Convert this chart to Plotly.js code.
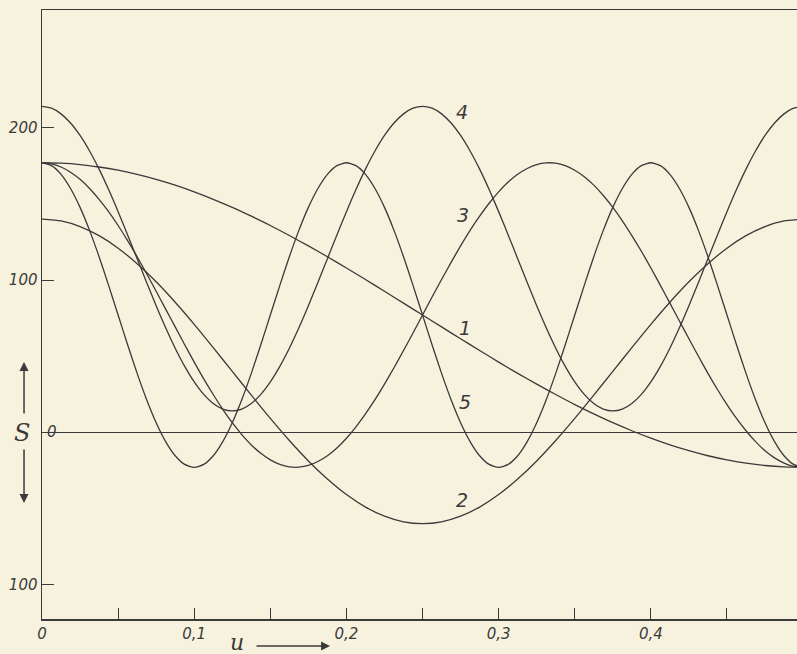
<!DOCTYPE html>
<html>
<head>
<meta charset="utf-8">
<script src="https://cdn.plot.ly/plotly-3.0.1.min.js"></script>
<style>html,body{margin:0;padding:0;background:#f7f2de;}</style>
</head>
<body>
<div id="chart" style="width:797px;height:654px;"></div>
<script>
// u values (abscissa): coarse grid for the slow curves, fine grid for the fast ones
const u = [0,0.0125,0.025,0.0375,0.05,0.0625,0.075,0.0875,0.1,0.1125,0.125,0.1375,0.15,0.1625,0.175,0.1875,0.2,0.2125,0.225,0.2375,0.25,0.2625,0.275,0.2875,0.3,0.3125,0.325,0.3375,0.35,0.3625,0.375,0.3875,0.4,0.4125,0.425,0.4375,0.45,0.4625,0.475,0.4875,0.5];
const uFine = [0,0.00625,0.0125,0.01875,0.025,0.03125,0.0375,0.04375,0.05,0.05625,0.0625,0.06875,0.075,0.08125,0.0875,0.09375,0.1,0.10625,0.1125,0.11875,0.125,0.13125,0.1375,0.14375,0.15,0.15625,0.1625,0.16875,0.175,0.18125,0.1875,0.19375,0.2,0.20625,0.2125,0.21875,0.225,0.23125,0.2375,0.24375,0.25,0.25625,0.2625,0.26875,0.275,0.28125,0.2875,0.29375,0.3,0.30625,0.3125,0.31875,0.325,0.33125,0.3375,0.34375,0.35,0.35625,0.3625,0.36875,0.375,0.38125,0.3875,0.39375,0.4,0.40625,0.4125,0.41875,0.425,0.43125,0.4375,0.44375,0.45,0.45625,0.4625,0.46875,0.475,0.48125,0.4875,0.49375,0.5];

// S values for each curve
const curve1 = [177,176.7,175.8,174.2,172.1,169.4,166.1,162.3,157.9,153.0,147.7,141.9,135.8,129.2,122.4,115.3,107.9,100.3,92.6,84.8,77,69.2,61.4,53.7,46.1,38.7,31.6,24.8,18.2,12.1,6.3,1.0,-3.9,-8.3,-12.1,-15.4,-18.1,-20.2,-21.8,-22.7,-23];
const curve2 = [140,138.8,135.1,129.1,120.9,110.7,98.8,85.4,70.9,55.6,40,24.4,9.1,-5.4,-18.8,-30.7,-40.9,-49.1,-55.1,-58.8,-60,-58.8,-55.1,-49.1,-40.9,-30.7,-18.8,-5.4,9.1,24.4,40,55.6,70.9,85.4,98.8,110.7,120.9,129.1,135.1,138.8,140];
const curve3 = [177,176.3,174.2,170.8,166.1,160.1,153.0,144.9,135.8,125.9,115.3,104.1,92.6,80.9,69.2,57.5,46.1,35.1,24.8,15.1,6.3,-1.5,-8.3,-13.8,-18.1,-21.1,-22.7,-22.9,-21.8,-19.2,-15.4,-10.3,-3.9,3.6,12.1,21.4,31.6,42.4,53.7,65.2,77,88.8,100.3,111.6,122.4,132.6,141.9,150.4,157.9,164.3,169.4,173.2,175.8,176.9,176.7,175.1,172.1,167.8,162.3,155.5,147.7,138.9,129.2,118.9,107.9,96.5,84.8,73.1,61.4,49.9,38.7,28.1,18.2,9.1,1.0,-6.1,-12.1,-16.8,-20.2,-22.3,-23];
const curve4 = [214,212.8,209.1,203.1,194.9,184.7,172.8,159.4,144.9,129.6,114,98.4,83.1,68.6,55.2,43.3,33.1,24.9,18.9,15.2,14,15.2,18.9,24.9,33.1,43.3,55.2,68.6,83.1,98.4,114,129.6,144.9,159.4,172.8,184.7,194.9,203.1,209.1,212.8,214,212.8,209.1,203.1,194.9,184.7,172.8,159.4,144.9,129.6,114,98.4,83.1,68.6,55.2,43.3,33.1,24.9,18.9,15.2,14,15.2,18.9,24.9,33.1,43.3,55.2,68.6,83.1,98.4,114,129.6,144.9,159.4,172.8,184.7,194.9,203.1,209.1,212.8,214];
const curve5 = [177,175.1,169.4,160.1,147.7,132.6,115.3,96.5,77,57.5,38.7,21.4,6.3,-6.1,-15.4,-21.1,-23,-21.1,-15.4,-6.1,6.3,21.4,38.7,57.5,77,96.5,115.3,132.6,147.7,160.1,169.4,175.1,177,175.1,169.4,160.1,147.7,132.6,115.3,96.5,77,57.5,38.7,21.4,6.3,-6.1,-15.4,-21.1,-23,-21.1,-15.4,-6.1,6.3,21.4,38.7,57.5,77,96.5,115.3,132.6,147.7,160.1,169.4,175.1,177,175.1,169.4,160.1,147.7,132.6,115.3,96.5,77,57.5,38.7,21.4,6.3,-6.1,-15.4,-21.1,-23];

const curveNames = ['1','2','3','4','5'];
const curveX = [u, u, uFine, uFine, uFine];
const curveData = [curve1, curve2, curve3, curve4, curve5];
// label positions (u, S) for curve numbers
const labelU = [0.2778, 0.2759, 0.2766, 0.2759, 0.2778];
const labelS = [68.5, -44.5, 142.5, 210.5, 19.9];

const xTickVals = [0,0.05,0.1,0.15,0.2,0.25,0.3,0.35,0.4,0.45];
const xTickText = ['0','','0,1','','0,2','','0,3','','0,4',''];
const yTickVals = [200,100,-100];
const yTickText = ['200','100','100'];

const ink = '#3a3a3a';
const traces = curveData.map((s, i) => ({
  x: curveX[i], y: s, type: 'scatter', mode: 'lines', name: curveNames[i],
  line: {color: ink, width: 1.3, shape: 'spline', smoothing: 0.6},
  hoverinfo: 'skip'
}));

const italic = (size, fam) => ({family: fam || 'DejaVu Sans', size: size, color: ink, style: 'italic'});

const annotations = curveNames.map((n, i) => ({
  x: labelU[i], y: labelS[i], xref: 'x', yref: 'y', text: n, showarrow: false,
  font: italic(19), xanchor: 'center', yanchor: 'middle'
}));

annotations.push({x: 0, y: 0, xref: 'paper', yref: 'y', text: '0', showarrow: false,
  xanchor: 'left', yanchor: 'middle', xshift: 3, font: italic(15)});
// u axis label with arrow
annotations.push({x: 0.258, y: -0.0394, xref: 'paper', yref: 'paper', text: 'u', showarrow: false,
  font: italic(22, 'DejaVu Serif'), xanchor: 'center', yanchor: 'middle'});
annotations.push({x: 0.3815, y: -0.0443, xref: 'paper', yref: 'paper', text: '', showarrow: true,
  ax: -75, ay: 0, arrowhead: 2, arrowsize: 1.2, arrowwidth: 1.5, arrowcolor: ink});
// S axis label with arrows
annotations.push({x: -0.0265, y: 0.305, xref: 'paper', yref: 'paper', text: 'S', showarrow: false,
  font: italic(24, 'DejaVu Serif'), xanchor: 'center', yanchor: 'middle'});
annotations.push({x: -0.0238, y: 0.4220, xref: 'paper', yref: 'paper', text: '', showarrow: true,
  ax: 0, ay: 53, arrowhead: 2, arrowsize: 1.2, arrowwidth: 1.5, arrowcolor: ink});
annotations.push({x: -0.0238, y: 0.1905, xref: 'paper', yref: 'paper', text: '', showarrow: true,
  ax: 0, ay: -55, arrowhead: 2, arrowsize: 1.2, arrowwidth: 1.5, arrowcolor: ink});

const layout = {
  width: 797, height: 654,
  margin: {l: 42, r: 0, t: 10, b: 35, pad: 0},
  paper_bgcolor: '#f7f2de', plot_bgcolor: '#f7f2de',
  showlegend: false,
  xaxis: {
    range: [0, 0.496], showgrid: false, zeroline: false,
    showline: true, mirror: true, linecolor: ink, linewidth: 1.5,
    ticks: 'inside', ticklen: 11, tickwidth: 1, tickcolor: ink,
    tickvals: xTickVals, ticktext: xTickText, tickfont: italic(15)
  },
  yaxis: {
    range: [-122.6, 277.3], showgrid: false,
    zeroline: true, zerolinecolor: ink, zerolinewidth: 1.5,
    showline: true, linecolor: ink, linewidth: 1.5,
    ticks: 'inside', ticklen: 12, tickwidth: 1, tickcolor: ink,
    tickvals: yTickVals, ticktext: yTickText, tickfont: italic(15)
  },
  annotations: annotations
};

Plotly.newPlot('chart', traces, layout, {staticPlot: true, displayModeBar: false});
</script>
</body>
</html>
